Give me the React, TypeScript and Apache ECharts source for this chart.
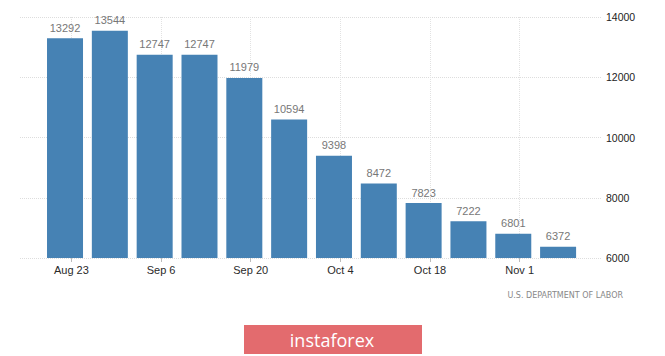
import React, { useEffect, useRef } from "react";
import * as echarts from "echarts";

const barDates = ["2020-08-22", "2020-08-29", "2020-09-05", "2020-09-12", "2020-09-19", "2020-09-26", "2020-10-03", "2020-10-10", "2020-10-17", "2020-10-24", "2020-10-31", "2020-11-07"];
const values = [13292, 13544, 12747, 12747, 11979, 10594, 9398, 8472, 7823, 7222, 6801, 6372];
const tickDates = ["2020-08-23", "2020-09-06", "2020-09-20", "2020-10-04", "2020-10-18", "2020-11-01"];
const yMin = 6000;
const yMax = 14000;
const yStep = 2000;
const sourceText = "U.S. DEPARTMENT OF LABOR";
const brandText = "instaforex";

const DAY = 86400000;
const t = (s: string) => Date.parse(s + "T00:00:00Z");
const MONTHS = ["Jan", "Feb", "Mar", "Apr", "May", "Jun", "Jul", "Aug", "Sep", "Oct", "Nov", "Dec"];

export default function App() {
  const ref = useRef<HTMLDivElement>(null);
  useEffect(() => {
    document.body.style.margin = "0";
    const chart = echarts.init(ref.current!, null, { renderer: "svg" });
    const first = t(barDates[0]);
    const last = t(barDates[barDates.length - 1]);
    chart.setOption({
      animation: false,
      grid: { left: 20, right: 64, top: 17, bottom: 98 },
      xAxis: {
        type: "value",
        min: first - 7.03 * DAY,
        max: last + 6.7 * DAY,
        axisLine: { show: false },
        axisTick: {
          show: true,
          customValues: tickDates.map(t),
          length: 4,
          lineStyle: { color: "#bbbbbb" },
        },
        axisLabel: {
          customValues: tickDates.map(t),
          color: "#2a2a2a",
          fontSize: 11,
          fontFamily: "Liberation Sans",
          margin: 6,
          formatter: (v: number) => {
            const d = new Date(v);
            return MONTHS[d.getUTCMonth()] + " " + d.getUTCDate();
          },
        },
        splitLine: { show: true, lineStyle: { color: "#e2e2e2", type: "dotted" } },
      },
      yAxis: {
        type: "value",
        position: "right",
        min: yMin,
        max: yMax,
        interval: yStep,
        axisLine: { show: false },
        axisTick: { show: false },
        axisLabel: {
          color: "#222222",
          fontSize: 10.5,
          fontFamily: "Liberation Sans",
          margin: 5,
          formatter: (v: number) => String(v),
        },
        splitLine: { show: true, lineStyle: { color: "#dddddd", type: "dotted" } },
      },
      series: [
        {
          type: "bar",
          barWidth: 36,
          data: values.map((v, i) => [t(barDates[i]), v]),
          itemStyle: { color: "#4682b4" },
          label: {
            show: true,
            position: "top",
            distance: 5,
            color: "#777777",
            fontSize: 11,
            fontFamily: "Liberation Sans",
          },
        },
      ],
      graphic: [
        {
          type: "text",
          right: 42,
          top: 291,
          style: { text: sourceText, fill: "#888888", fontSize: 8, fontFamily: "DejaVu Sans" },
        },
        {
          type: "rect",
          shape: { x: 244, y: 325, width: 178, height: 29 },
          style: { fill: "#e36b6e" },
        },
        {
          type: "text",
          x: 332,
          y: 340,
          style: {
            text: brandText,
            fill: "#ffffff",
            fontSize: 18,
            fontFamily: "Open Sans",
            align: "center",
            verticalAlign: "middle",
          },
        },
      ],
    });
    return () => chart.dispose();
  }, []);
  return <div ref={ref} style={{ width: 665, height: 356, position: "absolute", left: 0, top: 0 }} />;
}
